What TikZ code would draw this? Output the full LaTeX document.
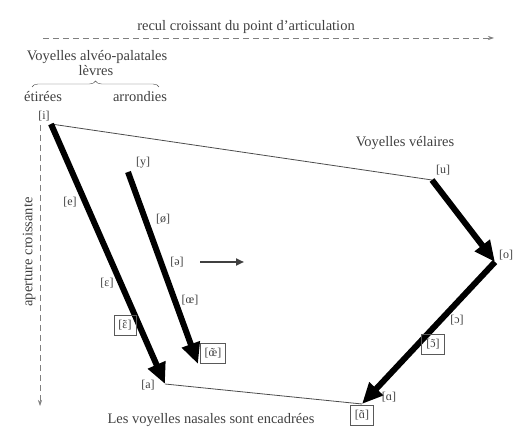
\documentclass[tikz,border=0pt]{standalone}
\usepackage{fontspec}
\setmainfont{Liberation Serif}
\usetikzlibrary{arrows.meta,decorations.pathreplacing}

\newcommand\tildeon[1]{{\accent"02DC #1}}

\tikzset{
  vowel/.style={font=\fontsize{12}{14}\selectfont, text=black!75, inner sep=1pt},
  nasal/.style={vowel, draw=black!65, inner xsep=4.5pt, inner ysep=5pt, line width=0.7pt},
  title/.style={font=\fontsize{14.5}{16}\selectfont, text=black!75, inner sep=1pt},
  move/.style={line width=6pt, -{Triangle[length=21pt,width=18pt]}},
  edge/.style={black!70, line width=0.8pt},
  axis/.style={black!50, line width=0.6pt, dash pattern=on 6pt off 4pt, -{Stealth[length=6pt,width=4pt]}}
}

\begin{document}
\begin{tikzpicture}[x=1pt, y=-1pt]
\useasboundingbox (0, 0) rectangle (519, 427);
% axes
\node[title] (recul) at (246, 27) {recul croissant du point d'articulation};
\coordinate (h0) at (43, 38);
\coordinate (h1) at (494, 38);
\draw[axis] (h0) -- (h1);
\coordinate (v0) at (40, 125);
\coordinate (v1) at (40, 406);
\draw[axis] (v0) -- (v1);
\node[title, rotate=90] (aperture) at (29, 252) {aperture croissante};
% lips
\node[title] (alveo) at (97, 57) {Voyelles alvéo-palatales};
\node[title] (levres) at (96, 71) {lèvres};
\coordinate (b0) at (32, 87);
\coordinate (b1) at (159, 87);
\draw[black!70, decorate, decoration = {brace, amplitude = 6pt}] (b0) -- (b1);
\node[title] (etirees) at (43, 97) {étirées};
\node[title] (arrondies) at (140, 97) {arrondies};
\node[title] (velaires) at (405, 143) {Voyelles vélaires};
% corners
\coordinate (i) at (51, 124);
\coordinate (u) at (432, 180);
\coordinate (o) at (495, 262);
\coordinate (a) at (165, 384);
\coordinate (an) at (362, 404);
\coordinate (y) at (128, 172);
\coordinate (oe) at (198, 364);
\draw[edge] (i) -- (u);
\draw[edge] (a) -- (an);
\draw[move] (i) -- (a);
\draw[move] (y) -- (oe);
\draw[move] (u) -- (o);
\draw[move] (o) -- (an);
% vowels
\node[vowel] (vi) at (44, 116) {[i]};
\node[vowel] (ve) at (70, 202) {[e]};
\node[vowel] (veps) at (107, 283) {[ɛ]};
\node[nasal] (veps2) at (125, 325) {[\tildeon{ɛ}]};
\node[vowel] (va) at (148, 385) {[a]};
\node[vowel] (vy) at (143, 163) {[y]};
\node[vowel] (vo2) at (163, 219) {[ø]};
\node[vowel] (vschwa) at (177, 262) {[ə]};
\node[vowel] (voe) at (190, 300) {[œ]};
\node[nasal] (voe2) at (213, 353) {[\tildeon{œ}]};
\node[vowel] (vu) at (443, 170) {[u]};
\node[vowel] (vo) at (506, 255) {[o]};
\node[vowel] (vc) at (457, 320) {[ɔ]};
\node[nasal] (vc2) at (433, 344) {[\tildeon{ɔ}]};
\node[vowel] (vaa) at (389, 397) {[ɑ]};
\node[nasal] (vaa2) at (362, 415) {[\tildeon{ɑ}]};
% schwa shift
\coordinate (s0) at (200, 262);
\coordinate (s1) at (244, 262);
\draw[black!75, line width=2.5pt, -{Triangle[length=8pt,width=7pt]}] (s0) -- (s1);
\node[title] (nasales) at (211, 420) {Les voyelles nasales sont encadrées};
\end{tikzpicture}
\end{document}
